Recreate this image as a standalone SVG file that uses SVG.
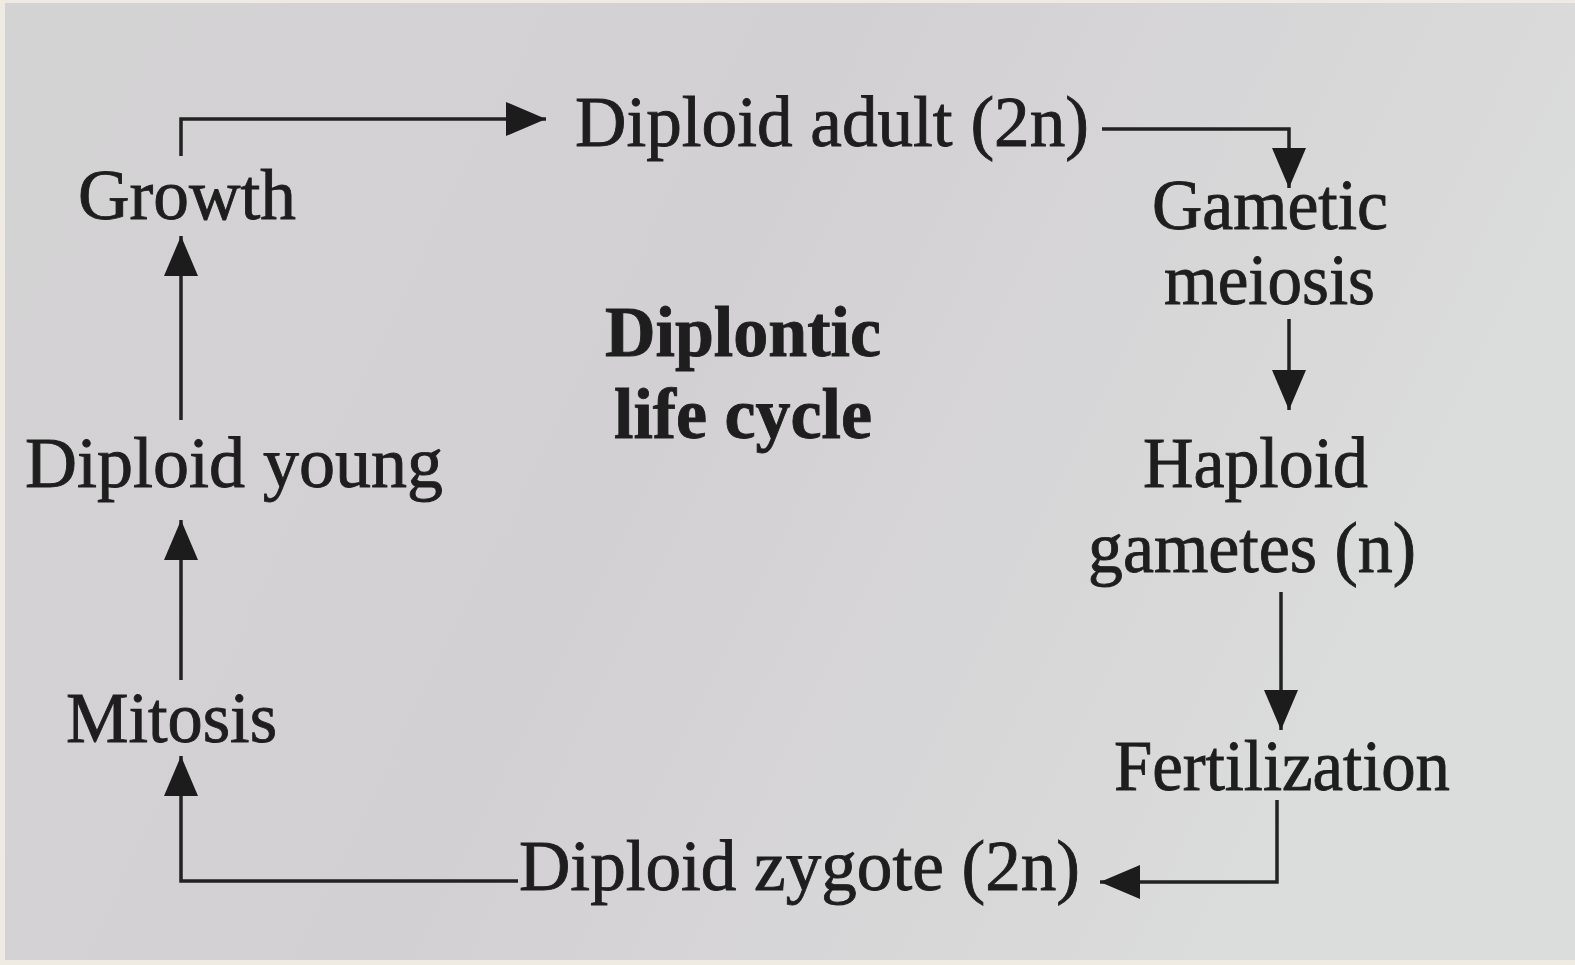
<svg xmlns="http://www.w3.org/2000/svg" width="1575" height="965" viewBox="0 0 1575 965">
<defs>
<linearGradient id="paper" x1="0" y1="0" x2="1" y2="0.3">
<stop offset="0" stop-color="#d4d3d4"/>
<stop offset="0.5" stop-color="#d3d0d3"/>
<stop offset="1" stop-color="#dbdcdc"/>
</linearGradient>
<marker id="ah" viewBox="0 0 40 34" refX="40" refY="17" markerWidth="40" markerHeight="34" markerUnits="userSpaceOnUse" orient="auto">
<path d="M0,0 L40,17 L0,34 Z" fill="#1c1c1c"/>
</marker>
<style>
.t{font-family:"Liberation Serif","Times New Roman",serif;font-size:72px;fill:#1e1e1e;stroke:#1e1e1e;stroke-width:0.9}
.b{font-weight:bold}
.c{fill:none;stroke:#222;stroke-width:3.5}
</style>
</defs>
<rect x="0" y="0" width="1575" height="965" fill="#efebe2"/>
<rect x="5" y="3" width="1570" height="957" fill="url(#paper)"/>
<g id="connectors">
<path class="c" d="M181,156 V119 H546" marker-end="url(#ah)"/>
<path class="c" d="M1102,129 H1289 V188" marker-end="url(#ah)"/>
<path class="c" d="M1289,319 V410" marker-end="url(#ah)"/>
<path class="c" d="M1281,592 V730" marker-end="url(#ah)"/>
<path class="c" d="M1277,800 V882 H1100" marker-end="url(#ah)"/>
<path class="c" d="M518,881 H181 V756" marker-end="url(#ah)"/>
<path class="c" d="M181,680 V520" marker-end="url(#ah)"/>
<path class="c" d="M181,420 V236" marker-end="url(#ah)"/>
</g>
<g id="diploid-adult"><text class="t" x="575" y="146" textLength="514" lengthAdjust="spacingAndGlyphs">Diploid adult (2n)</text></g>
<g id="gametic-meiosis"><text class="t" x="1152" y="229" textLength="236" lengthAdjust="spacingAndGlyphs">Gametic</text><text class="t" x="1164" y="304" textLength="211" lengthAdjust="spacingAndGlyphs">meiosis</text></g>
<g id="haploid-gametes"><text class="t" x="1143" y="487" textLength="225" lengthAdjust="spacingAndGlyphs">Haploid</text><text class="t" x="1088" y="572" textLength="328" lengthAdjust="spacingAndGlyphs">gametes (n)</text></g>
<g id="fertilization"><text class="t" x="1114" y="790" textLength="336" lengthAdjust="spacingAndGlyphs">Fertilization</text></g>
<g id="diploid-zygote"><text class="t" x="519" y="890" textLength="561" lengthAdjust="spacingAndGlyphs">Diploid zygote (2n)</text></g>
<g id="mitosis"><text class="t" x="66" y="742" textLength="211" lengthAdjust="spacingAndGlyphs">Mitosis</text></g>
<g id="diploid-young"><text class="t" x="25" y="487" textLength="418" lengthAdjust="spacingAndGlyphs">Diploid young</text></g>
<g id="growth"><text class="t" x="78" y="219" textLength="218" lengthAdjust="spacingAndGlyphs">Growth</text></g>
<g id="title"><text class="t b" x="605" y="356" textLength="276" lengthAdjust="spacingAndGlyphs">Diplontic</text><text class="t b" x="614" y="438" textLength="258" lengthAdjust="spacingAndGlyphs">life cycle</text></g>
</svg>
